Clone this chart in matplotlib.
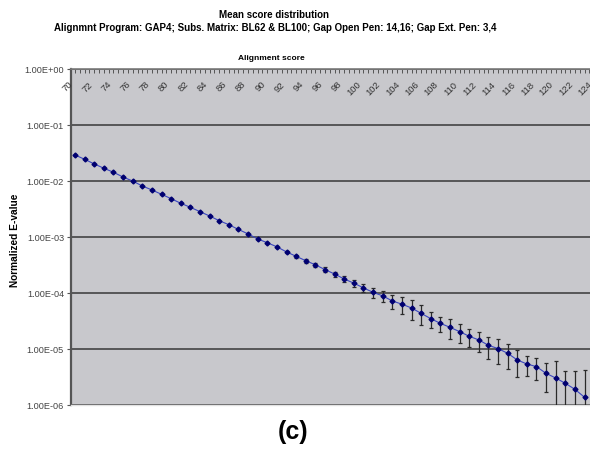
import matplotlib
matplotlib.use("Agg")
import matplotlib.pyplot as plt
from matplotlib.ticker import FixedLocator, MultipleLocator, FuncFormatter, NullLocator
import numpy as np

plt.rcParams['font.family'] = ['Liberation Sans', 'DejaVu Sans']

# Alignment scores and mean normalized E-values
scores = list(range(70, 124))
evalues = [
    2.95e-2, 2.47e-2, 2.04e-2, 1.71e-2, 1.45e-2, 1.19e-2, 1.01e-2, 8.24e-3, 7.00e-3, 5.86e-3,
    4.89e-3, 4.05e-3, 3.43e-3, 2.87e-3, 2.40e-3, 1.98e-3, 1.68e-3, 1.38e-3, 1.15e-3, 9.33e-4,
    8.00e-4, 6.76e-4, 5.48e-4, 4.58e-4, 3.82e-4, 3.23e-4, 2.65e-4, 2.21e-4, 1.80e-4, 1.52e-4,
    1.25e-4, 1.04e-4, 9.00e-5, 7.30e-5, 6.40e-5, 5.47e-5, 4.39e-5, 3.53e-5, 2.91e-5, 2.47e-5,
    2.07e-5, 1.71e-5, 1.47e-5, 1.18e-5, 1.03e-5, 8.49e-6, 6.45e-6, 5.47e-6, 4.90e-6, 3.72e-6,
    3.07e-6, 2.47e-6, 1.93e-6, 1.39e-6,
]
# Error (standard deviation) for each score
errors = [
    0, 0, 0, 0, 0, 0, 0, 0, 0, 0,
    0, 0, 0, 0, 0, 0, 0, 0, 0, 0,
    0, 0, 2.2e-5, 2.8e-5, 2.8e-5, 2.4e-5, 2.5e-5, 2.3e-5, 2.1e-5, 2.0e-5,
    2.0e-5, 2.0e-5, 2.1e-5, 2.0e-5, 2.2e-5, 2.1e-5, 1.7e-5, 1.1e-5, 9.0e-6, 9.5e-6,
    7.5e-6, 6.0e-6, 5.9e-6, 5.0e-6, 4.9e-6, 4.0e-6, 3.2e-6, 2.1e-6, 2.1e-6, 2.0e-6,
    3.2e-6, 1.7e-6, 2.2e-6, 2.8e-6,
]
x_tick_values = list(range(70, 125, 2))
x_tick_labels = [str(v) for v in x_tick_values]
y_tick_values = [1e0, 1e-1, 1e-2, 1e-3, 1e-4, 1e-5, 1e-6]

W, H = 590, 454
fig = plt.figure(figsize=(W / 100, H / 100), dpi=100)
fig.patch.set_facecolor('white')

left_px, right_px, top_px, bottom_px = 71, 598, 69.3, 405.3
ax = fig.add_axes([left_px / W, 1 - bottom_px / H,
                   (right_px - left_px) / W, (bottom_px - top_px) / H])
ax.set_facecolor('#c8c8cc')

ev = np.array(evalues)
er = np.array(errors)
lower = np.minimum(er, ev * 0.9999)
ax.errorbar(scores, evalues, yerr=[lower, er], fmt='none', ecolor='#2a2a2a',
            elinewidth=0.9, capsize=1.6, capthick=0.9, zorder=3)
ax.plot(scores, evalues, color='#3a46c0', lw=0.8, zorder=4)
ax.plot(scores, evalues, ls='none', marker='D', ms=2.5, color='#000070', zorder=5)

ax.set_yscale('log')
ax.set_ylim(1e-6, 1e0)
ax.set_xlim(69.58, 124.4)

ax.yaxis.set_major_locator(FixedLocator(y_tick_values))
ax.yaxis.set_minor_locator(NullLocator())
ax.yaxis.set_major_formatter(FuncFormatter(lambda v, p: f"{v:.2E}"))
ax.tick_params(axis='y', which='major', direction='out', length=3, width=0.8,
               color='#555555', labelsize=6.6, labelcolor='#444444', pad=2)
ax.yaxis.grid(True, which='major', color='#4e4e4e', lw=1.3, zorder=1)
ax.set_axisbelow(True)

ax.xaxis.set_ticks_position('top')
ax.xaxis.set_major_locator(FixedLocator(x_tick_values))
ax.xaxis.set_minor_locator(MultipleLocator(0.5))
ax.tick_params(axis='x', which='both', direction='in', length=3, width=0.7,
               color='#555555', labeltop=False, labelbottom=False)

for v, lab in zip(x_tick_values, x_tick_labels):
    ax.annotate(lab, xy=(v, 1), xycoords=('data', 'axes fraction'),
                xytext=(-2.5, -10.0), textcoords='offset points',
                rotation=45, rotation_mode='anchor', ha='right', va='center',
                fontsize=6.8, color='#333333', annotation_clip=False)

ax.spines['right'].set_visible(False)
ax.spines['left'].set_color('#555555')
ax.spines['left'].set_linewidth(1.6)
ax.spines['top'].set_color('#7a7a7a')
ax.spines['top'].set_linewidth(1.2)
ax.spines['bottom'].set_color('#e2e2e2')
ax.spines['bottom'].set_linewidth(1.0)

fig.text(274 / W, 1 - 15 / H, 'Mean score distribution', ha='center', va='center',
         fontsize=7, fontweight='bold')
fig.text(275 / W, 1 - 28 / H,
         'Alignmnt Program: GAP4; Subs. Matrix: BL62 & BL100; Gap Open Pen: 14,16; Gap Ext. Pen: 3,4',
         ha='center', va='center', fontsize=7, fontweight='bold')
fig.text(271 / W, 1 - 59 / H, 'Alignment score', ha='center', va='center',
         fontsize=6, fontweight='bold')
fig.text(15 / W, 1 - 240 / H, 'Normalized E-value', ha='center', va='center',
         rotation=90, fontsize=7.3, fontweight='bold')
fig.text(293 / W, 1 - 432 / H, '(c)', ha='center', va='center',
         fontsize=18, fontweight='bold')

fig.savefig('out.png', dpi=100)
